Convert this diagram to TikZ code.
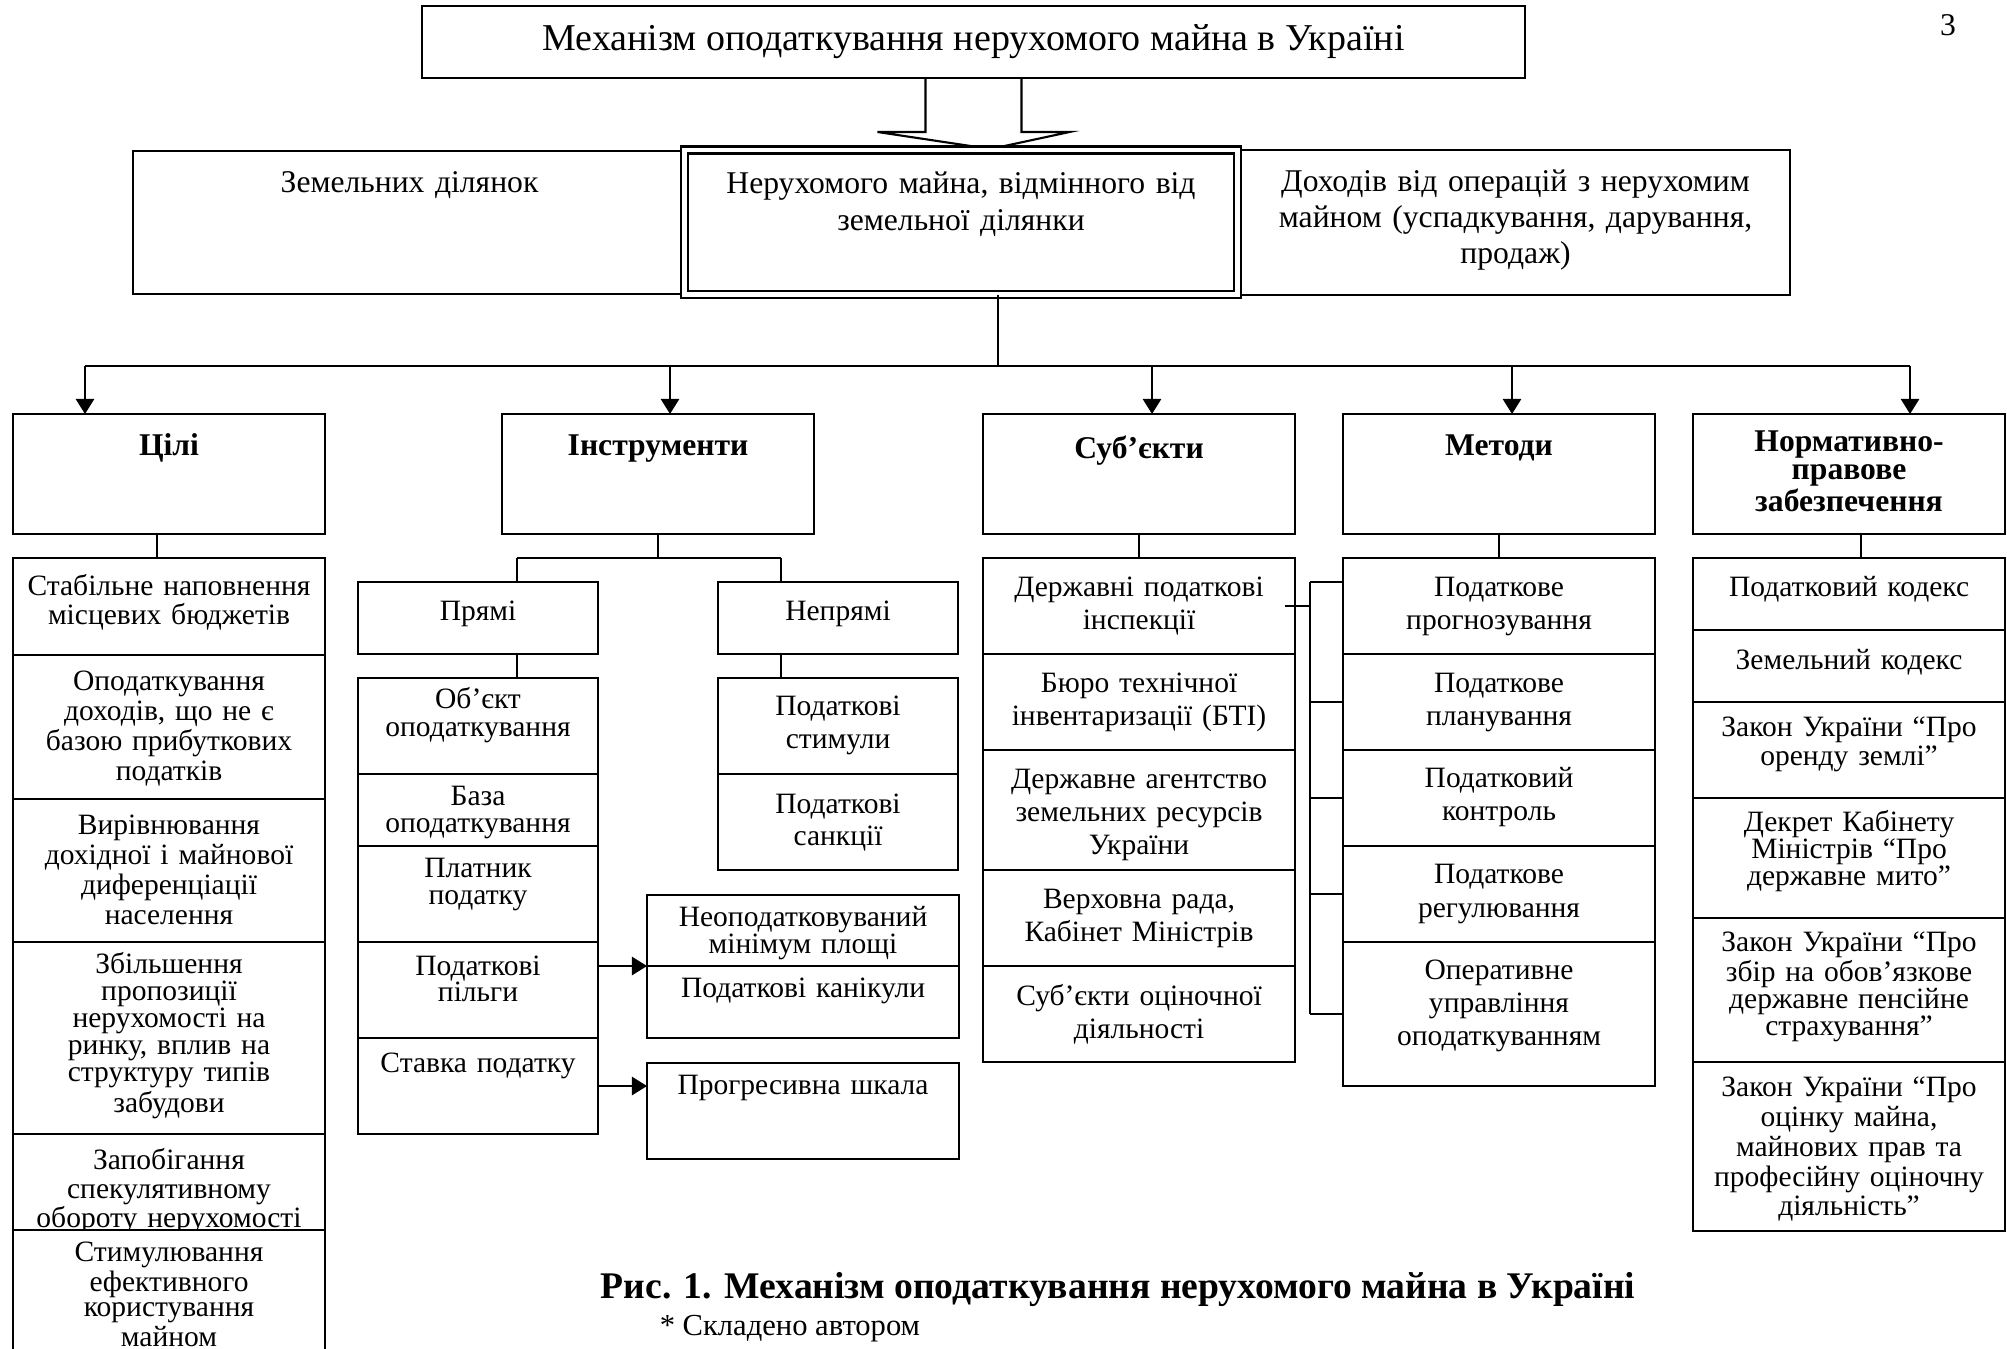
\documentclass[tikz,border=0pt]{standalone}
\usepackage{fontspec}
\setmainfont{Liberation Serif}
\usetikzlibrary{arrows.meta,positioning,calc}
\tikzstyle{box}=[draw, fill=white, align=center, inner xsep=1pt, inner ysep=0pt, outer sep=0pt, line width=0.6pt]
\tikzstyle{head}=[box, anchor=north west, text width=3.05cm, font=\fontsize{9}{0.28cm}\selectfont\bfseries]
\tikzstyle{wide}=[box, text width=3.05cm, txt]
\tikzstyle{narrow}=[box, text width=2.33cm, txt]
\tikzset{
  txt/.style={font=\fontsize{8.4}{#1}\selectfont}, txt/.default=0.33cm,
  cell/.code 2 args={\pgfmathsetmacro\celldp{#2-#1}\tikzset{text height=#1cm, text depth=\celldp cm}}
}

\begin{document}
\begin{tikzpicture}[>={Triangle[length=4.3pt,width=5.2pt]}, line width=0.6pt]
\useasboundingbox (0,0) rectangle (20.07,-13.48);

% top
\node[box, minimum width=11.03cm, minimum height=0.72cm, font=\fontsize{10.8}{13}\selectfont] (title) at (9.735,-0.42) {Механізм оподаткування нерухомого майна в Україні};
\node[anchor=base, font=\fontsize{9}{11}\selectfont] (pgnum) at (19.48,-0.35) {3};
\draw ([xshift=-0.48cm]title.south) -- ++(0,-0.54) -- ++(-0.48,0) -- ([xshift=0.17cm,yshift=-0.71cm]title.south)
  -- ([xshift=0.96cm,yshift=-0.54cm]title.south) -- ++(-0.48,0) -- ([xshift=0.48cm]title.south);

\node[box, anchor=north west, text width=5.46cm, cell={0.41}{1.43}, font=\fontsize{9}{0.37cm}\selectfont] (land) at (1.33,-1.51) {Земельних ділянок};
\node[box, anchor=north west, text width=5.42cm, cell={0.41}{1.45}, font=\fontsize{9}{0.36cm}\selectfont] (income) at (12.41,-1.50) {Доходів від операцій з нерухомим\\майном (успадкування, дарування,\\продаж)};
\node[box, anchor=north west, text width=5.46cm, cell={0.43}{1.445}, font=\fontsize{9}{0.37cm}\selectfont, double, double distance=1.2pt, line width=0.7pt] (prop) at (6.845,-1.50) {Нерухомого майна, відмінного від\\земельної ділянки};

% heads
\node[head, cell={0.41}{1.20}] (cil) at (0.13,-4.14) {Цілі};
\node[head, cell={0.41}{1.20}] (instr) at (5.02,-4.14) {Інструменти};
\node[head, cell={0.44}{1.20}] (subj) at (9.83,-4.14) {Суб’єкти};
\node[head, cell={0.41}{1.20}] (meth) at (13.43,-4.14) {Методи};
\node[head, cell={0.37}{1.20}] (norm) at (16.93,-4.14) {Нормативно-\\правове\\забезпечення};

\coordinate (trunk) at (9.98,-3.66);
\coordinate (b1) at (0.85,-3.66);
\coordinate (b2) at (6.70,-3.66);
\coordinate (b3) at (11.52,-3.66);
\coordinate (b4) at (15.12,-3.66);
\coordinate (b5) at (19.10,-3.66);
\draw (trunk |- prop.south) -- (trunk);
\draw (b1) -- (b5);
\foreach \b/\h in {b1/cil, b2/instr, b3/subj, b4/meth, b5/norm}
  \draw[->] (\b) -- (\b |- \h.north);

% goals
\node[wide, cell={0.37}{0.97}, txt=0.29cm, below=0.24cm of cil] (c1) {Стабільне наповнення\\місцевих бюджетів};
\node[wide, cell={0.35}{1.44}, txt=0.30cm, below=0pt of c1] (c2) {Оподаткування\\доходів, що не є\\базою прибуткових\\податків};
\node[wide, cell={0.35}{1.43}, txt=0.30cm, below=0pt of c2] (c3) {Вирівнювання\\дохідної і майнової\\диференціації\\населення};
\node[wide, cell={0.31}{1.92}, txt=0.27cm, below=0pt of c3] (c4) {Збільшення\\пропозиції\\нерухомості на\\ринку, вплив на\\структуру типів\\забудови};
\node[wide, cell={0.35}{0.96}, txt=0.29cm, below=0pt of c4] (c5) {Запобігання\\спекулятивному\\обороту нерухомості};
\node[wide, cell={0.31}{1.30}, txt=0.25cm, below=0pt of c5] (c6) {Стимулювання\\ефективного\\користування\\майном};
\draw ([xshift=-0.12cm]cil.south) -- ([xshift=-0.12cm]c1.north);

% instruments
\node[narrow, anchor=north west, cell={0.38}{0.72}] (pr) at (3.58,-5.82) {Прямі};
\node[narrow, anchor=north west, cell={0.38}{0.72}] (npr) at (7.18,-5.82) {Непрямі};
\node[narrow, cell={0.30}{0.96}, txt=0.28cm, below=0.24cm of pr] (o1) {Об’єкт\\оподаткування};
\node[narrow, cell={0.31}{0.72}, txt=0.27cm, below=0pt of o1] (o2) {База\\оподаткування};
\node[narrow, cell={0.31}{0.96}, txt=0.27cm, below=0pt of o2] (o3) {Платник\\податку};
\node[narrow, cell={0.33}{0.96}, txt=0.26cm, below=0pt of o3] (o4) {Податкові\\пільги};
\node[narrow, cell={0.34}{0.96}, below=0pt of o4] (o5) {Ставка податку};
\node[narrow, cell={0.37}{0.96}, below=0.24cm of npr] (n1) {Податкові\\стимули};
\node[narrow, cell={0.39}{0.96}, txt=0.32cm, below=0pt of n1] (n2) {Податкові\\санкції};
\node[wide, anchor=north west, cell={0.31}{0.71}, txt=0.27cm] (p1) at (6.47,-8.95) {Неоподатковуваний\\мінімум площі};
\node[wide, cell={0.31}{0.72}, below=0pt of p1] (p2) {Податкові канікули};
\node[wide, anchor=north west, cell={0.31}{0.96}] (g1) at (6.47,-10.63) {Прогресивна шкала};
\coordinate (dl) at (5.17,-5.58);
\coordinate (dr) at (7.81,-5.58);
\coordinate (ga) at ([yshift=-0.23cm]g1.north west);
\draw (instr.south) -- (instr.south |- dl);
\draw (dl) -- (dr);
\draw (dl) -- (dl |- pr.north);
\draw (dr) -- (dr |- npr.north);
\draw (dl |- pr.south) -- (dl |- o1.north);
\draw (dr |- npr.south) -- (dr |- n1.north);
\draw[->] (p1.south west -| o4.east) -- (p1.south west);
\draw[->] (ga -| o5.east) -- (ga);

% subjects
\node[wide, cell={0.38}{0.96}, below=0.24cm of subj] (s1) {Державні податкові\\інспекції};
\node[wide, cell={0.38}{0.96}, below=0pt of s1] (s2) {Бюро технічної\\інвентаризації (БТІ)};
\node[wide, cell={0.38}{1.20}, below=0pt of s2] (s3) {Державне агентство\\земельних ресурсів\\України};
\node[wide, cell={0.38}{0.96}, below=0pt of s3] (s4) {Верховна рада,\\Кабінет Міністрів};
\node[wide, cell={0.39}{0.96}, below=0pt of s4] (s5) {Суб’єкти оціночної\\діяльності};
\draw (subj) -- (s1);

% methods
\node[wide, cell={0.38}{0.96}, below=0.24cm of meth] (m1) {Податкове\\прогнозування};
\node[wide, cell={0.38}{0.96}, below=0pt of m1] (m2) {Податкове\\планування};
\node[wide, cell={0.37}{0.96}, below=0pt of m2] (m3) {Податковий\\контроль};
\node[wide, cell={0.37}{0.96}, txt=0.34cm, below=0pt of m3] (m4) {Податкове\\регулювання};
\node[wide, cell={0.37}{1.44}, below=0pt of m4] (m5) {Оперативне\\управління\\оподаткуванням};
\draw (meth) -- (m1);
\coordinate (brx) at (13.10,0);
\coordinate (mtop) at ([yshift=-0.24cm]m1.north west);
\draw ([xshift=-0.1cm]s1.east) -- (s1.east -| brx);
\draw (mtop -| brx) -- (m5.west -| brx);
\draw (mtop -| brx) -- (mtop);
\foreach \m in {m2,m3,m4,m5}
  \draw (\m.west -| brx) -- (\m.west);

% legal base
\node[wide, cell={0.38}{0.72}, below=0.24cm of norm] (r1) {Податковий кодекс};
\node[wide, cell={0.39}{0.72}, below=0pt of r1] (r2) {Земельний кодекс};
\node[wide, cell={0.34}{0.96}, txt=0.29cm, below=0pt of r2] (r3) {Закон України “Про\\оренду землі”};
\node[wide, cell={0.33}{1.20}, txt=0.27cm, below=0pt of r3] (r4) {Декрет Кабінету\\Міністрів “Про\\державне мито”};
\node[wide, cell={0.33}{1.44}, txt=0.27cm, below=0pt of r4] (r5) {Закон України “Про\\збір на обов’язкове\\державне пенсійне\\страхування”};
\node[wide, cell={0.34}{1.69}, txt=0.26cm, below=0pt of r5] (r6) {Закон України “Про\\оцінку майна,\\майнових прав та\\професійну оціночну\\діяльність”};
\draw ([xshift=0.12cm]norm.south) -- ([xshift=0.12cm]r1.north);

% caption
\node[anchor=base, font=\fontsize{10.7}{13}\selectfont\bfseries] (cap) at (11.18,-12.98) {Рис. 1. Механізм оподаткування нерухомого майна в Україні};
\node[anchor=base west, font=\fontsize{8.7}{11}\selectfont] (src) at (6.47,-13.35) {* Складено автором};
\end{tikzpicture}
\end{document}
